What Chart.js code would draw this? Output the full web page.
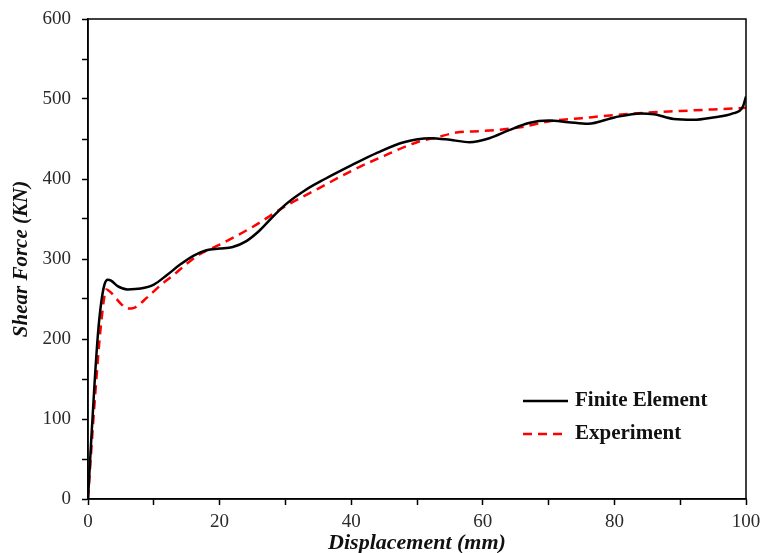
<!DOCTYPE html>
<html>
<head>
<meta charset="utf-8">
<script src="https://cdn.jsdelivr.net/npm/chart.js@4/dist/chart.umd.min.js"></script>
<style>
  body { margin: 0; background: #fff; }
  canvas { display: block; }
</style>
</head>
<body>
<canvas id="chart" width="764" height="553"></canvas>
<script>
// Finite Element curve (displacement mm, shear force KN)
const feDisp  = [0, 0.5, 1, 1.5, 2, 2.5, 3, 3.5, 4.5, 6, 8, 10, 12, 14, 16, 18, 20, 22, 24, 26, 28, 30, 33, 36, 40, 44, 48, 52, 55, 58, 61, 64, 67, 70, 73, 76, 80, 84, 86, 89, 92, 95, 98, 99.5, 100];
const feForce = [0, 75, 145, 205, 245, 268, 274, 273, 266, 262, 263, 268, 280, 293, 304, 311, 313, 315, 322, 335, 352, 368, 386, 400, 417, 433, 446, 451, 449, 446, 451, 461, 470, 473, 471, 469, 477, 482, 481, 475, 474, 477, 482, 490, 503];

// Experiment curve
const expDisp  = [0, 1, 2, 2.8, 3.5, 5, 6, 7, 9, 11, 13, 15, 17, 20, 25, 30, 35, 40, 45, 50, 53, 56, 60, 63, 66, 70, 75, 80, 85, 90, 95, 100];
const expForce = [0, 120, 220, 262, 258, 244, 238, 239, 252, 267, 280, 294, 306, 318, 340, 366, 388, 410, 429, 446, 452, 458, 460, 462, 465, 472, 476, 480, 483, 485, 487, 489];

const xTicks = [0, 20, 40, 60, 80, 100];
const yTicks = [0, 100, 200, 300, 400, 500, 600];

const seriesNames = ['Finite Element', 'Experiment'];

const toPoints = (xs, ys) => xs.map((x, i) => ({ x: x, y: ys[i] }));

const serif = "'Liberation Serif', 'Times New Roman', serif";

// frame around plot + legend inside the plot area
const framePlugin = {
  id: 'frame',
  afterDraw(chart) {
    const ctx = chart.ctx;
    const a = chart.chartArea;
    ctx.save();
    ctx.strokeStyle = '#000';
    ctx.lineWidth = 1.5;
    ctx.strokeRect(a.left, a.top, a.right - a.left, a.bottom - a.top);

    // legend
    const lx = a.left + 435, ly = a.top + 382, gap = 33;
    chart.data.datasets.forEach((ds, i) => {
      const y = ly + i * gap;
      ctx.beginPath();
      ctx.strokeStyle = ds.borderColor;
      ctx.lineWidth = 2.5;
      ctx.setLineDash(ds.borderDash || []);
      ctx.moveTo(lx, y);
      ctx.lineTo(lx + 45, y);
      ctx.stroke();
      ctx.setLineDash([]);
      ctx.fillStyle = '#111';
      ctx.font = 'bold 21px ' + serif;
      ctx.textBaseline = 'middle';
      ctx.fillText(ds.label, lx + 52, y);
    });
    ctx.restore();
  }
};

new Chart('chart', {
  type: 'line',
  data: {
    datasets: [
      {
        label: seriesNames[0],
        data: toPoints(feDisp, feForce),
        borderColor: '#000000',
        borderWidth: 2.5,
        pointRadius: 0,
        cubicInterpolationMode: 'monotone'
      },
      {
        label: seriesNames[1],
        data: toPoints(expDisp, expForce),
        borderColor: '#ff0000',
        borderWidth: 2.5,
        borderDash: [9, 6],
        pointRadius: 0,
        cubicInterpolationMode: 'monotone'
      }
    ]
  },
  options: {
    responsive: false,
    animation: false,
    layout: { padding: { top: 19, right: 18, left: 0, bottom: 0 } },
    plugins: {
      legend: { display: false },
      tooltip: { enabled: false }
    },
    scales: {
      x: {
        type: 'linear',
        min: 0,
        max: 100,
        afterFit(axis) {
          axis.height = 54;
          axis.paddingLeft = 0;
          axis.paddingRight = 0;
        },
        afterBuildTicks(axis) {
          const t = [];
          for (let v = 0; v <= 100; v += 10) t.push({ value: v });
          axis.ticks = t;
        },
        ticks: {
          callback: (v) => xTicks.includes(v) ? String(v) : '',
          autoSkip: false,
          maxRotation: 0,
          color: '#2a2a2a',
          font: { family: serif, size: 19 },
          padding: 6
        },
        grid: { drawOnChartArea: false, color: '#000', tickLength: 6, tickWidth: 1.5 },
        border: { color: '#000', width: 1.5 },
        title: {
          display: true,
          text: 'Displacement (mm)',
          color: '#111',
          font: { family: serif, size: 22, weight: 'bold', style: 'italic', lineHeight: 1 },
          padding: { top: 0, bottom: -1 }
        }
      },
      y: {
        min: 0,
        max: 600,
        afterFit(axis) {
          axis.width = 88;
          axis.paddingTop = 0;
          axis.paddingBottom = 0;
        },
        afterBuildTicks(axis) {
          const t = [];
          for (let v = 0; v <= 600; v += 50) t.push({ value: v });
          axis.ticks = t;
        },
        ticks: {
          callback: (v) => yTicks.includes(v) ? String(v) : '',
          autoSkip: false,
          color: '#2a2a2a',
          font: { family: serif, size: 19 },
          padding: 11
        },
        grid: { drawOnChartArea: false, color: '#000', tickLength: 6, tickWidth: 1.5 },
        border: { color: '#000', width: 1.5 },
        title: {
          display: true,
          text: 'Shear Force (KN)',
          color: '#111',
          font: { family: serif, size: 21, weight: 'bold', style: 'italic', lineHeight: 1 },
          padding: { top: 11, bottom: 0 }
        }
      }
    }
  },
  plugins: [framePlugin]
});
</script>
</body>
</html>
